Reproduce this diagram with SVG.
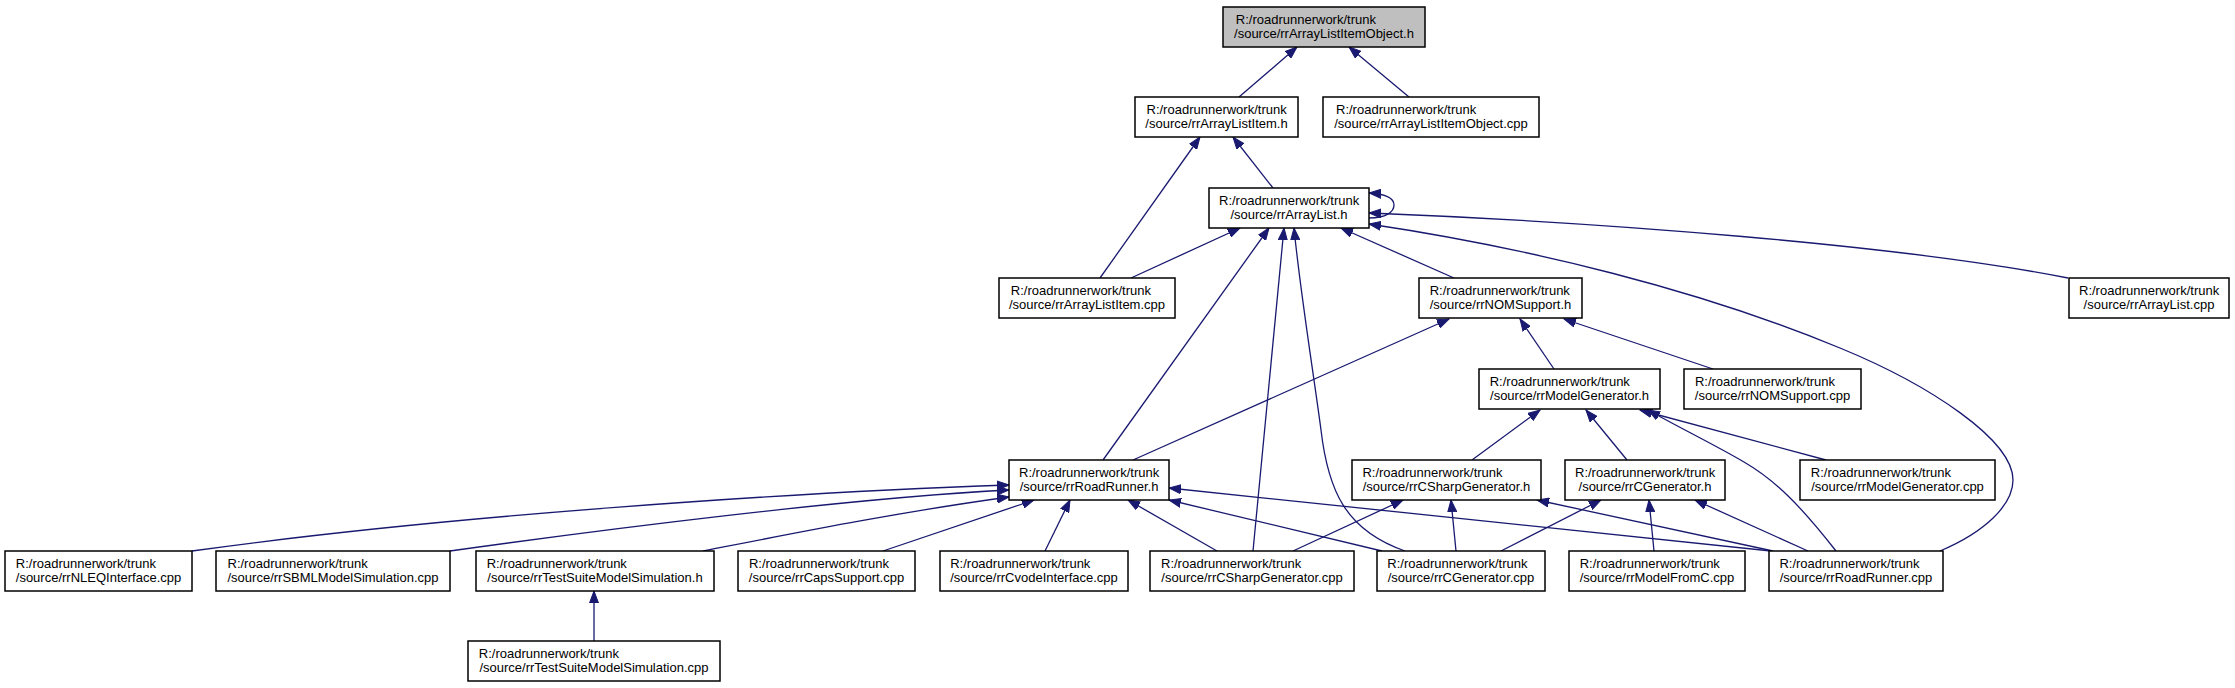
<svg xmlns="http://www.w3.org/2000/svg" width="2235" height="688" viewBox="0 0 2235 688">
<style>
.n rect{fill:#fff;stroke:#000;stroke-width:1.5}
.n text{font-family:"Liberation Sans",Arial,sans-serif;font-size:13px;fill:#000}
.n .c{text-anchor:middle}
#edges path{fill:none;stroke:#191970;stroke-width:1.3;marker-end:url(#ah)}
</style>
<defs>
<marker id="ah" markerUnits="userSpaceOnUse" markerWidth="13" markerHeight="10" refX="12" refY="5" orient="auto">
<path d="M0,0.5 L12,5 L0,9.5 z" fill="#191970" stroke="#191970" stroke-width="1"/>
</marker>
</defs>
<rect width="2235" height="688" fill="#fff"/>
<g id="edges">
<path d="M1239,97 L1297,47"/>
<path d="M1409,97 L1349,47"/>
<path d="M1273,188 L1233,137"/>
<path d="M1100,278 L1200,137"/>
<path d="M1131,278 L1240,228"/>
<path d="M1103,460 L1269,228"/>
<path d="M1253,551 L1284,228"/>
<path d="M1405,551 C1345,530 1328,490 1321,430 C1313,370 1300,290 1294,228"/>
<path d="M1454,278 L1341,228"/>
<path d="M1940,551 C1985,532 2013,505 2013,480 C2013,440 1930,385 1840,348 C1700,290 1530,248 1369,224"/>
<path d="M2068,278 C1900,245 1600,222 1369,213"/>
<path d="M1369,218 C1386,218 1394,212 1394,205 C1394,198 1386,194 1369,193"/>
<path d="M1133,460 L1449,319"/>
<path d="M1554,369 L1520,319"/>
<path d="M1713,369 L1564,319"/>
<path d="M1472,460 L1540,410"/>
<path d="M1627,460 L1586,410"/>
<path d="M1826,460 L1640,410"/>
<path d="M1836,551 C1800,505 1775,480 1744,462 C1715,445 1680,428 1648,410"/>
<path d="M192,551 C450,515 800,492 1009,485"/>
<path d="M450,551 C600,530 850,498 1009,490"/>
<path d="M703,551 C800,532 900,512 1009,497"/>
<path d="M883,551 L1034,500"/>
<path d="M1045,551 L1070,500"/>
<path d="M1217,551 L1128,500"/>
<path d="M1382,551 L1169,500"/>
<path d="M1771,551 L1169,488"/>
<path d="M1293,551 L1403,500"/>
<path d="M1456,551 L1451,500"/>
<path d="M1773,551 L1537,500"/>
<path d="M1501,551 L1601,500"/>
<path d="M1654,551 L1649,500"/>
<path d="M1808,551 L1695,500"/>
<path d="M594,641 L594,591"/>
</g>
<g id="n_rrArrayListItemObject_h" class="n"><rect x="1223" y="7" width="202" height="40" style="fill:#bfbfbf"/><text x="1235.8" y="23.5">R:/roadrunnerwork/trunk</text><text class="c" x="1324" y="37.5">/source/rrArrayListItemObject.h</text></g>
<g id="n_rrArrayListItem_h" class="n"><rect x="1135" y="97" width="163" height="40"/><text x="1146.5" y="113.5">R:/roadrunnerwork/trunk</text><text class="c" x="1216.5" y="127.5">/source/rrArrayListItem.h</text></g>
<g id="n_rrArrayListItemObject_cpp" class="n"><rect x="1323" y="97" width="216" height="40"/><text x="1336" y="113.5">R:/roadrunnerwork/trunk</text><text class="c" x="1431" y="127.5">/source/rrArrayListItemObject.cpp</text></g>
<g id="n_rrArrayList_h" class="n"><rect x="1209" y="188" width="160" height="40"/><text x="1219" y="204.5">R:/roadrunnerwork/trunk</text><text class="c" x="1289" y="218.5">/source/rrArrayList.h</text></g>
<g id="n_rrArrayListItem_cpp" class="n"><rect x="999" y="278" width="176" height="40"/><text x="1010.8" y="294.5">R:/roadrunnerwork/trunk</text><text class="c" x="1087" y="308.5">/source/rrArrayListItem.cpp</text></g>
<g id="n_rrNOMSupport_h" class="n"><rect x="1419" y="278" width="163" height="40"/><text x="1429.7" y="294.5">R:/roadrunnerwork/trunk</text><text class="c" x="1500.5" y="308.5">/source/rrNOMSupport.h</text></g>
<g id="n_rrArrayList_cpp" class="n"><rect x="2069" y="278" width="160" height="40"/><text x="2079" y="294.5">R:/roadrunnerwork/trunk</text><text class="c" x="2149" y="308.5">/source/rrArrayList.cpp</text></g>
<g id="n_rrModelGenerator_h" class="n"><rect x="1479" y="369" width="181" height="40"/><text x="1489.7" y="385.5">R:/roadrunnerwork/trunk</text><text class="c" x="1569.5" y="399.5">/source/rrModelGenerator.h</text></g>
<g id="n_rrNOMSupport_cpp" class="n"><rect x="1684" y="369" width="177" height="40"/><text x="1694.9" y="385.5">R:/roadrunnerwork/trunk</text><text class="c" x="1772.5" y="399.5">/source/rrNOMSupport.cpp</text></g>
<g id="n_rrRoadRunner_h" class="n"><rect x="1009" y="460" width="160" height="40"/><text x="1019" y="476.5">R:/roadrunnerwork/trunk</text><text class="c" x="1089" y="490.5">/source/rrRoadRunner.h</text></g>
<g id="n_rrCSharpGenerator_h" class="n"><rect x="1352" y="460" width="189" height="40"/><text x="1362.4" y="476.5">R:/roadrunnerwork/trunk</text><text class="c" x="1446.5" y="490.5">/source/rrCSharpGenerator.h</text></g>
<g id="n_rrCGenerator_h" class="n"><rect x="1565" y="460" width="160" height="40"/><text x="1575" y="476.5">R:/roadrunnerwork/trunk</text><text class="c" x="1645" y="490.5">/source/rrCGenerator.h</text></g>
<g id="n_rrModelGenerator_cpp" class="n"><rect x="1800" y="460" width="195" height="40"/><text x="1810.8" y="476.5">R:/roadrunnerwork/trunk</text><text class="c" x="1897.5" y="490.5">/source/rrModelGenerator.cpp</text></g>
<g id="n_rrNLEQInterface_cpp" class="n"><rect x="5" y="551" width="187" height="40"/><text x="15.8" y="567.5">R:/roadrunnerwork/trunk</text><text class="c" x="98.5" y="581.5">/source/rrNLEQInterface.cpp</text></g>
<g id="n_rrSBMLModelSimulation_cpp" class="n"><rect x="216" y="551" width="234" height="40"/><text x="227.5" y="567.5">R:/roadrunnerwork/trunk</text><text class="c" x="333" y="581.5">/source/rrSBMLModelSimulation.cpp</text></g>
<g id="n_rrTestSuiteModelSimulation_h" class="n"><rect x="476" y="551" width="238" height="40"/><text x="486.7" y="567.5">R:/roadrunnerwork/trunk</text><text class="c" x="595" y="581.5">/source/rrTestSuiteModelSimulation.h</text></g>
<g id="n_rrCapsSupport_cpp" class="n"><rect x="738" y="551" width="177" height="40"/><text x="748.9" y="567.5">R:/roadrunnerwork/trunk</text><text class="c" x="826.5" y="581.5">/source/rrCapsSupport.cpp</text></g>
<g id="n_rrCvodeInterface_cpp" class="n"><rect x="940" y="551" width="188" height="40"/><text x="950.2" y="567.5">R:/roadrunnerwork/trunk</text><text class="c" x="1034" y="581.5">/source/rrCvodeInterface.cpp</text></g>
<g id="n_rrCSharpGenerator_cpp" class="n"><rect x="1150" y="551" width="204" height="40"/><text x="1161" y="567.5">R:/roadrunnerwork/trunk</text><text class="c" x="1252" y="581.5">/source/rrCSharpGenerator.cpp</text></g>
<g id="n_rrCGenerator_cpp" class="n"><rect x="1377" y="551" width="168" height="40"/><text x="1387.3" y="567.5">R:/roadrunnerwork/trunk</text><text class="c" x="1461" y="581.5">/source/rrCGenerator.cpp</text></g>
<g id="n_rrModelFromC_cpp" class="n"><rect x="1569" y="551" width="176" height="40"/><text x="1579.7" y="567.5">R:/roadrunnerwork/trunk</text><text class="c" x="1657" y="581.5">/source/rrModelFromC.cpp</text></g>
<g id="n_rrRoadRunner_cpp" class="n"><rect x="1769" y="551" width="174" height="40"/><text x="1779.4" y="567.5">R:/roadrunnerwork/trunk</text><text class="c" x="1856" y="581.5">/source/rrRoadRunner.cpp</text></g>
<g id="n_rrTestSuiteModelSimulation_cpp" class="n"><rect x="468" y="641" width="252" height="40"/><text x="478.8" y="657.5">R:/roadrunnerwork/trunk</text><text class="c" x="594" y="671.5">/source/rrTestSuiteModelSimulation.cpp</text></g>
</svg>
